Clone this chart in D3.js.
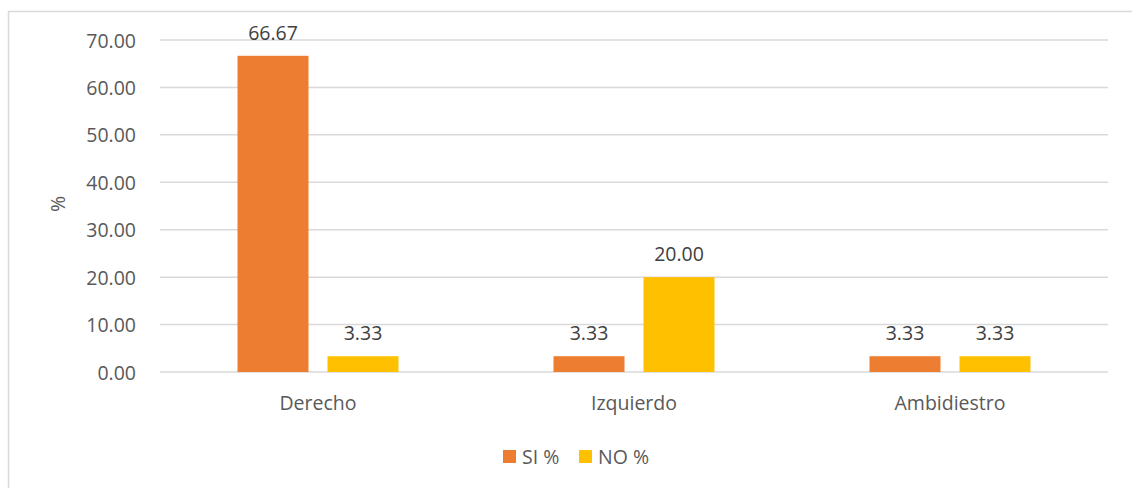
<!DOCTYPE html>
<html>
<head>
<meta charset="utf-8">
<script src="https://cdn.jsdelivr.net/npm/d3@7"></script>
<style>
  html, body { margin: 0; padding: 0; background: #fff; }
  svg { display: block; font-family: "Open Sans", "Noto Sans", sans-serif; }
</style>
</head>
<body>
<svg id="chart" width="1132" height="488"></svg>
<script>
// Categories and series values (%)
const categories = ["Derecho", "Izquierdo", "Ambidiestro"];
const seriesNames = ["SI %", "NO %"];
const siValues = [66.67, 3.33, 3.33];
const noValues = [3.33, 20.00, 3.33];
const yTicks = [0, 10, 20, 30, 40, 50, 60, 70];
const colors = ["#ED7D31", "#FFC000"];

const svg = d3.select("#chart");
const W = 1132, H = 488;
const margin = { left: 160, right: 24, top: 40, bottom: 116 };
const plotW = W - margin.left - margin.right;

// Outer chart frame
svg.append("rect")
  .attr("x", 8.5).attr("y", 11.5)
  .attr("width", W + 10).attr("height", H + 10)
  .attr("fill", "none").attr("stroke", "#d9d9d9").attr("stroke-width", 1.5);

const x0 = d3.scaleBand().domain(categories).range([margin.left, margin.left + plotW]);
const y = d3.scaleLinear().domain([0, 70]).range([372, 40]);

const barW = 71, barGap = 19;
const x1 = d3.scaleOrdinal().domain(seriesNames)
  .range([-(barW + barGap / 2), barGap / 2]);

const g = svg.append("g");

// Gridlines
g.selectAll("line.grid").data(yTicks).join("line")
  .attr("class", "grid")
  .attr("x1", margin.left).attr("x2", margin.left + plotW)
  .attr("y1", d => y(d)).attr("y2", d => y(d))
  .attr("stroke", "#d9d9d9").attr("stroke-width", 1.5);

// Y axis labels
const yAxis = d3.axisLeft(y).tickValues(yTicks).tickFormat(d3.format(".2f")).tickSize(0).tickPadding(0);
const ya = svg.append("g").attr("transform", "translate(136,0)").call(yAxis);
ya.select(".domain").remove();
ya.selectAll("text")
  .attr("fill", "#595959").style("font-size", "19.5px").style("font-family", "'Open Sans', sans-serif")
  .attr("dy", "0.36em");

// Y axis title
svg.append("text")
  .attr("transform", "translate(65,204) rotate(-90)")
  .attr("text-anchor", "middle")
  .attr("fill", "#595959").style("font-size", "19.5px")
  .text("%");

// Category labels
const xAxis = d3.axisBottom(x0).tickSize(0).tickPadding(0);
const xa = svg.append("g").attr("transform", "translate(0,372)").call(xAxis);
xa.select(".domain").remove();
xa.selectAll("text")
  .attr("fill", "#595959").style("font-size", "19.5px").style("font-family", "'Open Sans', sans-serif")
  .attr("y", 38).attr("dy", 0);

// Bars
const rows = categories.map((c, i) => ({ cat: c, vals: [siValues[i], noValues[i]] }));
const groups = g.selectAll("g.cat").data(rows).join("g")
  .attr("class", "cat")
  .attr("transform", d => `translate(${x0(d.cat) + x0.bandwidth() / 2},0)`);

groups.selectAll("rect").data(d => d.vals.map((v, k) => ({ s: seriesNames[k], v, k })))
  .join("rect")
  .attr("x", d => x1(d.s)).attr("width", barW)
  .attr("y", d => y(d.v)).attr("height", d => y(0) - y(d.v))
  .attr("fill", d => colors[d.k]);

// Data labels
groups.selectAll("text.val").data(d => d.vals.map((v, k) => ({ s: seriesNames[k], v, k })))
  .join("text")
  .attr("class", "val")
  .attr("x", d => x1(d.s) + barW / 2)
  .attr("y", d => y(d.v) - 16)
  .attr("text-anchor", "middle")
  .attr("fill", "#404040").style("font-size", "19.5px")
  .text(d => d.v.toFixed(2));

// Legend
const legend = svg.append("g").attr("transform", "translate(503,450)");
const legendX = [0, 76];
seriesNames.forEach((s, k) => {
  const lg = legend.append("g").attr("transform", `translate(${legendX[k]},0)`);
  lg.append("rect").attr("width", 13).attr("height", 13).attr("fill", colors[k]);
  lg.append("text").attr("x", 19).attr("y", 6.5).attr("dy", "0.36em")
    .attr("fill", "#595959").style("font-size", "19.5px").text(s);
});
</script>
</body>
</html>
